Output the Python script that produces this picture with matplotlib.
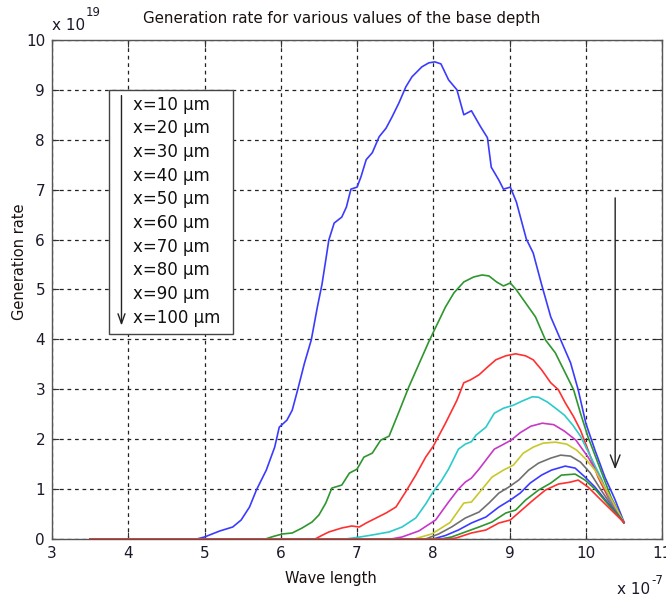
"""Generation rate vs wavelength for several base depths (MATLAB-style figure)."""
import matplotlib
matplotlib.use("Agg")
import matplotlib.pyplot as plt
from matplotlib.patches import Rectangle
import numpy as np

plt.rcParams["font.family"] = ["DejaVu Sans"]

# wavelength in units of 1e-7 m, generation rate in units of 1e19
X10 = [(3.5, 0), (4.9, 0), (5.0, 0.04), (5.2, 0.16), (5.37, 0.24), (5.48, 0.38), (5.59, 0.64),
       (5.68, 0.98), (5.81, 1.38), (5.92, 1.84), (5.98, 2.24), (6.08, 2.38), (6.15, 2.58),
       (6.22, 2.98), (6.31, 3.52), (6.4, 3.99), (6.48, 4.65), (6.54, 5.1), (6.59, 5.59),
       (6.63, 5.99), (6.7, 6.33), (6.8, 6.45), (6.86, 6.65), (6.92, 7.01), (7.0, 7.05),
       (7.05, 7.25), (7.12, 7.6), (7.2, 7.74), (7.29, 8.06), (7.38, 8.23), (7.46, 8.46),
       (7.55, 8.74), (7.64, 9.06), (7.72, 9.26), (7.85, 9.46), (7.94, 9.54), (8.02, 9.56),
       (8.1, 9.52), (8.2, 9.2), (8.31, 9.0), (8.4, 8.5), (8.5, 8.58), (8.62, 8.26),
       (8.71, 8.04), (8.76, 7.45), (8.86, 7.19), (8.92, 7.01), (9.01, 7.05), (9.09, 6.75),
       (9.16, 6.35), (9.22, 6.01), (9.31, 5.73), (9.42, 5.1), (9.54, 4.45), (9.67, 3.99),
       (9.8, 3.53), (9.9, 2.99), (10.0, 2.32), (10.12, 1.78), (10.25, 1.24), (10.38, 0.8),
       (10.5, 0.34)]
X20 = [(3.5, 0), (5.8, 0), (5.9, 0.05), (6.02, 0.1), (6.15, 0.12), (6.28, 0.22), (6.41, 0.34),
       (6.5, 0.48), (6.59, 0.72), (6.67, 1.02), (6.8, 1.08), (6.9, 1.32), (7.0, 1.4),
       (7.09, 1.64), (7.2, 1.72), (7.31, 1.98), (7.42, 2.06), (7.55, 2.55), (7.68, 3.05),
       (7.81, 3.5), (7.94, 3.95), (8.05, 4.3), (8.16, 4.65), (8.27, 4.93), (8.4, 5.15),
       (8.53, 5.25), (8.64, 5.29), (8.73, 5.27), (8.83, 5.15), (8.92, 5.07), (9.01, 5.13),
       (9.09, 4.99), (9.21, 4.73), (9.34, 4.45), (9.47, 3.99), (9.6, 3.73), (9.73, 3.33),
       (9.84, 2.99), (9.93, 2.52), (10.03, 2.04), (10.16, 1.52), (10.33, 0.84), (10.5, 0.33)]
X30 = [(3.5, 0), (6.45, 0), (6.55, 0.08), (6.63, 0.14), (6.8, 0.22), (6.93, 0.26), (7.03, 0.24),
       (7.12, 0.32), (7.25, 0.42), (7.38, 0.52), (7.51, 0.64), (7.64, 0.95), (7.77, 1.28),
       (7.9, 1.64), (8.0, 1.86), (8.16, 2.32), (8.31, 2.78), (8.4, 3.13), (8.49, 3.19),
       (8.6, 3.29), (8.7, 3.43), (8.82, 3.59), (8.95, 3.67), (9.08, 3.71), (9.21, 3.67),
       (9.31, 3.59), (9.42, 3.39), (9.54, 3.13), (9.64, 2.99), (9.73, 2.73), (9.84, 2.45),
       (9.93, 2.18), (10.03, 1.78), (10.16, 1.24), (10.33, 0.72), (10.5, 0.32)]
X40 = [(3.5, 0), (6.85, 0), (7.0, 0.03), (7.2, 0.08), (7.42, 0.14), (7.59, 0.24), (7.77, 0.42),
       (7.9, 0.7), (8.0, 0.95), (8.1, 1.15), (8.2, 1.4), (8.33, 1.8), (8.42, 1.9), (8.5, 1.95),
       (8.56, 2.08), (8.69, 2.24), (8.8, 2.52), (8.92, 2.62), (9.05, 2.68), (9.16, 2.76),
       (9.3, 2.85), (9.38, 2.84), (9.5, 2.74), (9.62, 2.6), (9.72, 2.48), (9.83, 2.28),
       (9.93, 2.06), (10.04, 1.72), (10.2, 1.22), (10.33, 0.74), (10.5, 0.33)]
X50 = [(3.5, 0), (7.45, 0), (7.59, 0.04), (7.81, 0.16), (8.03, 0.38), (8.2, 0.74), (8.33, 1.0),
       (8.42, 1.14), (8.5, 1.22), (8.6, 1.4), (8.71, 1.62), (8.8, 1.8), (8.9, 1.88),
       (9.02, 1.98), (9.14, 2.13), (9.28, 2.26), (9.43, 2.32), (9.58, 2.29), (9.72, 2.16),
       (9.87, 1.98), (10.03, 1.64), (10.2, 1.18), (10.35, 0.72), (10.5, 0.33)]
X60 = [(3.5, 0), (7.75, 0), (7.98, 0.1), (8.22, 0.33), (8.4, 0.72), (8.5, 0.74), (8.63, 0.98),
       (8.77, 1.24), (8.92, 1.38), (9.05, 1.48), (9.18, 1.72), (9.31, 1.84), (9.44, 1.92),
       (9.6, 1.94), (9.75, 1.9), (9.88, 1.78), (10.0, 1.6), (10.12, 1.38), (10.29, 0.92),
       (10.5, 0.33)]
X70 = [(3.5, 0), (7.9, 0), (8.07, 0.1), (8.24, 0.24), (8.42, 0.42), (8.6, 0.54), (8.73, 0.72),
       (8.86, 0.92), (8.99, 1.04), (9.12, 1.18), (9.25, 1.38), (9.38, 1.52), (9.54, 1.62),
       (9.67, 1.68), (9.8, 1.66), (9.93, 1.54), (10.06, 1.32), (10.2, 0.98), (10.35, 0.64),
       (10.5, 0.33)]
X80 = [(3.5, 0), (8.0, 0), (8.16, 0.07), (8.33, 0.18), (8.5, 0.32), (8.69, 0.44), (8.86, 0.64),
       (9.01, 0.78), (9.14, 0.92), (9.27, 1.12), (9.42, 1.28), (9.55, 1.38), (9.73, 1.46),
       (9.86, 1.42), (9.99, 1.24), (10.12, 1.04), (10.3, 0.7), (10.5, 0.33)]
X90 = [(3.5, 0), (8.1, 0), (8.24, 0.04), (8.42, 0.14), (8.6, 0.24), (8.77, 0.34), (8.95, 0.52),
       (9.08, 0.58), (9.21, 0.78), (9.38, 0.98), (9.54, 1.12), (9.68, 1.28), (9.86, 1.3),
       (9.99, 1.18), (10.12, 1.0), (10.3, 0.68), (10.5, 0.33)]
X100 = [(3.5, 0), (8.2, 0), (8.3, 0.02), (8.5, 0.12), (8.69, 0.18), (8.86, 0.32), (9.01, 0.38),
        (9.16, 0.58), (9.31, 0.78), (9.47, 0.98), (9.64, 1.1), (9.8, 1.14), (9.9, 1.18),
        (10.03, 1.04), (10.2, 0.78), (10.5, 0.33)]

SERIES = [X10, X20, X30, X40, X50, X60, X70, X80, X90, X100]
LABELS = ["x=10 µm", "x=20 µm", "x=30 µm", "x=40 µm", "x=50 µm",
          "x=60 µm", "x=70 µm", "x=80 µm", "x=90 µm", "x=100 µm"]
# MATLAB default cycle b, g, r, c, m, y, k (k drawn as grey here), then again
COLOURS = ["#3b3bff", "#2e962e", "#ff3030", "#2ccaca", "#c838c8",
           "#c8c82c", "#707070", "#3b3bff", "#2e962e", "#ff3030"]
XTICKS = [3, 4, 5, 6, 7, 8, 9, 10, 11]
YTICKS = [0, 1, 2, 3, 4, 5, 6, 7, 8, 9, 10]

fig = plt.figure(figsize=(6.66, 6.02), dpi=100)
ax = fig.add_axes([0.0781, 0.1047, 0.916, 0.829])

ax.set_xlim(3, 11)
ax.set_ylim(0, 10)
ax.set_xticks(XTICKS)
ax.set_yticks(YTICKS)
ax.tick_params(direction="in", length=5, top=True, right=True,
               labelsize=11, labelcolor="#1a1a2a", color="#333333", pad=5)
ax.grid(True, color="#222222", linestyle=(0, (3, 3)), linewidth=0.9)
for sp in ax.spines.values():
    sp.set_color("#555555")
    sp.set_linewidth(1.0)

# white background behind the right-hand arrow (hides the grid there)
ax.add_patch(Rectangle((10.2, 1.28), 0.42, 5.6, facecolor="white",
                       edgecolor="none", zorder=1.5))

for pts, col in zip(SERIES, COLOURS):
    arr = np.array(pts)
    ax.plot(arr[:, 0], arr[:, 1], color=col, linewidth=1.2, zorder=3)

ax.annotate("", xy=(10.385, 1.34), xytext=(10.385, 6.89),
            arrowprops=dict(arrowstyle="->,head_length=0.9,head_width=0.35",
                            color="#222222", linewidth=1.0), zorder=4)

# legend-style text box
ax.add_patch(Rectangle((3.745, 4.11), 1.634, 4.89, facecolor="white",
                       edgecolor="#444444", linewidth=1.0, zorder=5))
for i, lab in enumerate(LABELS):
    ax.text(4.06, 8.70 - i * 0.474, lab, fontsize=12, va="center", ha="left",
            color="#111111", zorder=6)
ax.annotate("", xy=(3.911, 4.22), xytext=(3.911, 8.94),
            arrowprops=dict(arrowstyle="->,head_length=0.7,head_width=0.25",
                            color="#222222", linewidth=1.0), zorder=6)

fig.text(342 / 666, 1 - 18 / 602, "Generation rate for various values of the base depth",
         ha="center", va="center", fontsize=10.8, color="#1a1010")
fig.text(20 / 666, 1 - 262 / 602, "Generation rate", rotation=90,
         ha="center", va="center", fontsize=10.5, color="#1a1010")
fig.text(331 / 666, 1 - 578 / 602, "Wave length", ha="center", va="center",
         fontsize=10.5, color="#1a1010")

fig.text(52 / 666, 1 - 25 / 602, "x 10", ha="left", va="center", fontsize=11,
         color="#1a1a2a")
fig.text(86 / 666, 1 - 13 / 602, "19", ha="left", va="center", fontsize=8.5,
         color="#1a1a2a")
fig.text(617 / 666, 1 - 590 / 602, "x 10", ha="left", va="center", fontsize=11,
         color="#1a1a2a")
fig.text(651 / 666, 1 - 580 / 602, "-7", ha="left", va="center", fontsize=8.5,
         color="#1a1a2a")

fig.savefig("out.png", dpi=100)
